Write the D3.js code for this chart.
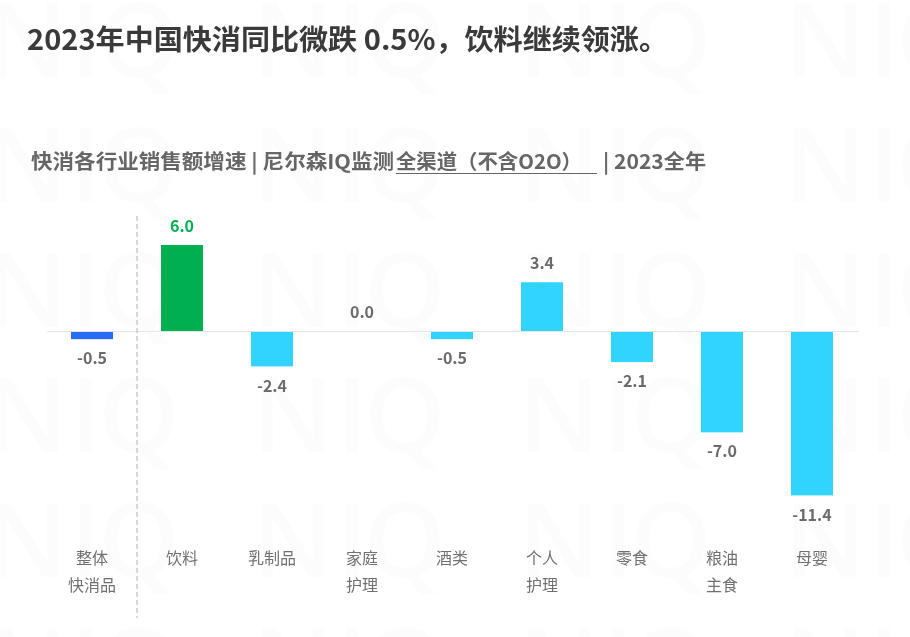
<!DOCTYPE html>
<html><head><meta charset="utf-8">
<script src="https://cdn.jsdelivr.net/npm/d3@7"></script>
<style>
html,body{margin:0;padding:0;background:#fff;}
#wrap{position:relative;width:910px;height:637px;}
#wm{position:absolute;left:0;top:0;}
svg{position:absolute;left:0;top:0;display:block;}
</style></head>
<body><div id="wrap"><canvas id="wm" width="910" height="637"></canvas><svg id="c" width="910" height="637"></svg></div>
<script>
const categories = ["整体\n快消品","饮料","乳制品","家庭\n护理","酒类","个人\n护理","零食","粮油\n主食","母婴"];
const values = [-0.5, 6.0, -2.4, 0.0, -0.5, 3.4, -2.1, -7.0, -11.4];
const barColors = ["#2b6cf6","#00b050","#31d3ff","#31d3ff","#31d3ff","#31d3ff","#31d3ff","#31d3ff","#31d3ff"];
const labelColors = ["#6b6b6b","#00b050","#6b6b6b","#6b6b6b","#6b6b6b","#6b6b6b","#6b6b6b","#6b6b6b","#6b6b6b"];
const title = "2023年中国快消同比微跌 0.5%，饮料继续领涨。";
const subParts = ["快消各行业销售额增速 | 尼尔森IQ监测", "全渠道（不含O2O）", "| 2023全年"];

const font = "'Noto Sans CJK SC','Noto Sans',sans-serif";

// faint background watermark (decoration)
const ctx = document.getElementById("wm").getContext("2d");
ctx.fillStyle = "rgba(0,0,0,0.012)";
ctx.font = "600 104px 'Open Sans', sans-serif";
ctx.textBaseline = "alphabetic";
for (let r=0;r<6;r++){
  for (let c=0;c<4;c++){
    const x0=-14+c*266, yb=2+r*125+75;
    ctx.fillText("N", x0, yb);
    ctx.fillText("I", x0+84, yb);
    ctx.fillText("Q", x0+112, yb);
  }
}

const svg = d3.select("#c");

svg.append("text").attr("x",27).attr("y",50).attr("font-family",font)
  .attr("font-weight",700).attr("font-size",28).attr("fill","#3a3a3a")
  .attr("textLength",641).attr("lengthAdjust","spacingAndGlyphs").text(title);

const subG = svg.append("g").attr("font-family",font).attr("font-weight",700)
  .attr("font-size",20).attr("fill","#666");
subG.append("text").attr("x",31).attr("y",169).attr("textLength",363)
  .attr("lengthAdjust","spacingAndGlyphs").text(subParts[0]);
subG.append("text").attr("x",396).attr("y",169).attr("textLength",186)
  .attr("lengthAdjust","spacingAndGlyphs").text(subParts[1]);
subG.append("line").attr("x1",396).attr("x2",597).attr("y1",173.5).attr("y2",173.5)
  .attr("stroke","#666").attr("stroke-width",1.2);
subG.append("text").attr("x",603).attr("y",169).attr("textLength",103)
  .attr("lengthAdjust","spacingAndGlyphs").text(subParts[2]);

const x = d3.scaleBand().domain(categories).range([47,857]).paddingInner(0.533).paddingOuter(0.267);
const y = d3.scaleLinear().domain([-12,6]).range([503,245]);
const y0 = y(0);

svg.append("line").attr("x1",47).attr("x2",859).attr("y1",y0+0.5).attr("y2",y0+0.5)
  .attr("stroke","#e6e6e6").attr("stroke-width",1);

const sepX = (x(categories[0])+x.bandwidth()+x(categories[1]))/2;
svg.append("line").attr("x1",sepX).attr("x2",sepX).attr("y1",216).attr("y2",618)
  .attr("stroke","#bdbdbd").attr("stroke-width",1.2).attr("stroke-dasharray","5,3");

svg.append("g").selectAll("rect").data(values).join("rect")
  .attr("x",(d,i)=>x(categories[i]))
  .attr("width",x.bandwidth())
  .attr("y",d=> d>=0 ? y(d) : y0+1)
  .attr("height",d=> d>=0 ? y0-y(d) : y(d)-y0)
  .attr("fill",(d,i)=>barColors[i]);

svg.append("g").selectAll("text").data(values).join("text")
  .attr("x",(d,i)=>x(categories[i])+x.bandwidth()/2)
  .attr("y",d=> d>=0 ? y(d)-18.5 : y(d)+20.5)
  .attr("dy","0.35em")
  .attr("text-anchor","middle").attr("font-family",font).attr("font-weight",700)
  .attr("font-size",16).attr("fill",(d,i)=>labelColors[i])
  .text(d=>d3.format(".1f")(d).replace("−","-"));

const cl = svg.append("g").attr("font-family",font).attr("font-size",16).attr("fill","#707070").attr("text-anchor","middle");
categories.forEach((c,i)=>{
  const t = cl.append("text").attr("x",x(c)+x.bandwidth()/2).attr("y",564);
  c.split("\n").forEach((ln,j)=>{
    t.append("tspan").attr("x",x(c)+x.bandwidth()/2).attr("dy",j?27:0).text(ln);
  });
});
</script></body></html>
